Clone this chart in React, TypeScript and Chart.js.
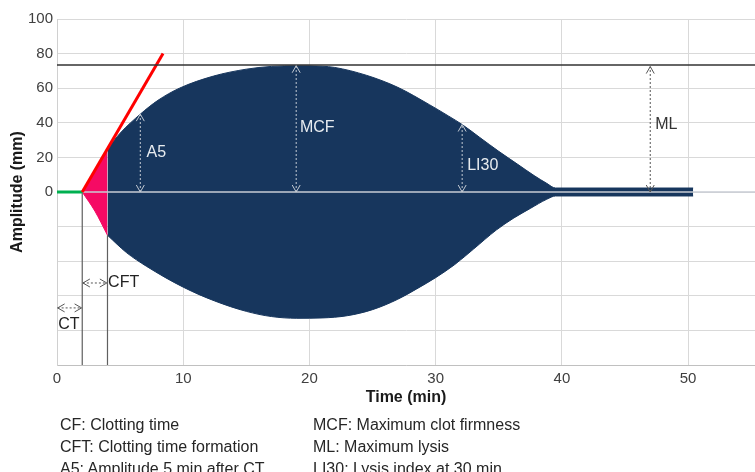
import React, { useEffect, useRef } from "react";
import { Chart, registerables } from "chart.js";

Chart.register(...registerables);

// ---- axes ----
const X_MIN = 0;
const X_MAX = 55.3;
const Y_MIN = -100;
const Y_MAX = 100;
const xTickValues = [0, 10, 20, 30, 40, 50];
const yTickValues = [-100, -80, -60, -40, -20, 0, 20, 40, 60, 80, 100];

// ---- clot trace ----
const clotTimeX = [0, 2]; // CT segment (flat)
const clotTimeY = [0, 0];
const cftUpperX = [2, 4];
const cftUpperY = [0, 25];
const cftLowerX = [2, 3, 4];
const cftLowerY = [0, -11, -25];
const upperX = [4, 5, 6.6, 8, 9.7, 12.4, 15, 17, 19, 21, 22, 24.5, 27, 29.5, 31, 32.1, 33.5, 35, 36.5, 37.8, 38.8, 39.5, 50.4];
const upperY = [25, 34, 45, 53, 60, 67, 71, 72.6, 73, 72.7, 72, 67.5, 60.5, 50.5, 44, 39, 31.5, 23.5, 16, 9.5, 5, 2.3, 2.3];
const lowerX = [4, 5.5, 7.1, 10, 12.5, 15, 17, 19, 21, 23, 25, 27, 28.5, 30, 31.5, 33, 34.8, 36.2, 37.5, 38.8, 39.5, 50.4];
const lowerY = [-25, -35, -43, -55, -63, -69, -72, -73, -72.8, -71.5, -68, -62, -56, -49.5, -42, -33, -22, -15, -9.5, -4.2, -2.3, -2.3];
const tangentX = [2, 8.4];
const tangentY = [0, 80];
const mcfValue = 73.4;
const ctLineX = 2;
const cftLineX = 4;
const cftLineTopY = -25;

// ---- annotations ----
const vArrowLabels = ["A5", "MCF", "LI30", "ML"];
const vArrowX = [6.6, 18.95, 32.1, 47.0];
const vArrowTop = [45, 73, 39, 72.5];
const vArrowBottom = [0, 0, 0, 0];
const vArrowDark = [false, false, false, true];
const vLabelX = [7.1, 19.25, 32.5, 47.4];
const vLabelY = [22.5, 37, 15, 38.7];

const hArrowLabels = ["CT", "CFT"];
const hArrowFrom = [0.05, 2.05];
const hArrowTo = [1.95, 3.95];
const hArrowY = [-67, -52.6];
const hLabelX = [0.1, 4.05];
const hLabelY = [-76.5, -52.6];

const notesLeft = ["CF: Clotting time", "CFT: Clotting time formation", "A5: Amplitude 5 min after CT"];
const notesRight = ["MCF: Maximum clot firmness", "ML: Maximum lysis", "LI30: Lysis index at 30 min."];

const FONT = "'Liberation Sans', Arial, sans-serif";
const NAVY = "#17365d";
const PINK = "#f50a64";

const pts = (xs: number[], ys: number[]) => xs.map((x, i) => ({ x, y: ys[i] }));

const annotationPlugin = {
  id: "rotemAnnotations",
  afterDatasetsDraw(chart: any) {
    const { ctx, scales } = chart;
    const sx = scales.x;
    const sy = scales.y;
    const head = (x: number, y: number, dx: number, dy: number) => {
      const L = 7;
      const W = 4;
      ctx.beginPath();
      ctx.moveTo(x - dx * L + dy * W, y - dy * L + dx * W);
      ctx.lineTo(x, y);
      ctx.lineTo(x - dx * L - dy * W, y - dy * L - dx * W);
      ctx.stroke();
    };
    ctx.save();
    ctx.lineWidth = 1;
    vArrowX.forEach((xv, i) => {
      const x = sx.getPixelForValue(xv);
      const y0 = sy.getPixelForValue(vArrowBottom[i]);
      const y1 = sy.getPixelForValue(vArrowTop[i]);
      const col = vArrowDark[i] ? "#555555" : "#c3cad3";
      ctx.strokeStyle = col;
      ctx.setLineDash([2, 2]);
      ctx.beginPath();
      ctx.moveTo(x, y0);
      ctx.lineTo(x, y1);
      ctx.stroke();
      ctx.setLineDash([]);
      head(x, y1, 0, -1);
      head(x, y0, 0, 1);
      ctx.fillStyle = vArrowDark[i] ? "#333333" : "#e8ecf0";
      ctx.font = `16px ${FONT}`;
      ctx.textAlign = "left";
      ctx.textBaseline = "middle";
      ctx.fillText(vArrowLabels[i], sx.getPixelForValue(vLabelX[i]), sy.getPixelForValue(vLabelY[i]));
    });
    hArrowFrom.forEach((xv, i) => {
      const xa = sx.getPixelForValue(xv);
      const xb = sx.getPixelForValue(hArrowTo[i]);
      const y = sy.getPixelForValue(hArrowY[i]);
      ctx.strokeStyle = "#555555";
      ctx.setLineDash([2, 2]);
      ctx.beginPath();
      ctx.moveTo(xa, y);
      ctx.lineTo(xb, y);
      ctx.stroke();
      ctx.setLineDash([]);
      head(xa, y, -1, 0);
      head(xb, y, 1, 0);
      ctx.fillStyle = "#222222";
      ctx.font = `16px ${FONT}`;
      ctx.textAlign = "left";
      ctx.textBaseline = "middle";
      ctx.fillText(hArrowLabels[i], sx.getPixelForValue(hLabelX[i]), sy.getPixelForValue(hLabelY[i]));
    });
    ctx.restore();
  },
};

export default function App() {
  const ref = useRef<HTMLCanvasElement | null>(null);

  useEffect(() => {
    if (!ref.current) return;
    const lineBase = { pointRadius: 0, pointHoverRadius: 0, fill: false, tension: 0 };
    const chart = new Chart(ref.current, {
      type: "line",
      data: {
        datasets: [
          {
            ...lineBase,
            data: pts(upperX, upperY),
            borderColor: NAVY,
            borderWidth: 1,
            backgroundColor: NAVY,
            fill: "+1",
            cubicInterpolationMode: "monotone",
            tension: 0.4,
            order: 10,
          },
          {
            ...lineBase,
            data: pts(lowerX, lowerY),
            borderColor: NAVY,
            borderWidth: 1,
            cubicInterpolationMode: "monotone",
            tension: 0.4,
            order: 10,
          },
          {
            ...lineBase,
            data: pts(cftUpperX, cftUpperY),
            borderColor: PINK,
            borderWidth: 1,
            backgroundColor: PINK,
            fill: "+1",
            order: 9,
          },
          {
            ...lineBase,
            data: pts(cftLowerX, cftLowerY),
            borderColor: PINK,
            borderWidth: 1,
            cubicInterpolationMode: "monotone",
            tension: 0.4,
            order: 9,
          },
          {
            ...lineBase,
            data: pts([X_MIN, X_MAX], [0, 0]),
            borderColor: "#c8cdd4",
            borderWidth: 1.5,
            order: 8,
          },
          {
            ...lineBase,
            data: pts([ctLineX, ctLineX], [0, Y_MIN]),
            borderColor: "#606060",
            borderWidth: 1.2,
            order: 7,
          },
          {
            ...lineBase,
            data: pts([cftLineX, cftLineX], [cftLineTopY, Y_MIN]),
            borderColor: "#606060",
            borderWidth: 1.2,
            order: 7,
          },
          {
            ...lineBase,
            data: pts(clotTimeX, clotTimeY),
            borderColor: "#00b050",
            borderWidth: 3,
            order: 6,
          },
          {
            ...lineBase,
            data: pts(tangentX, tangentY),
            borderColor: "#ff0000",
            borderWidth: 3,
            order: 5,
          },
          {
            ...lineBase,
            data: pts([X_MIN, X_MAX], [mcfValue, mcfValue]),
            borderColor: "#333333",
            borderWidth: 1.5,
            order: 4,
          },
        ],
      },
      options: {
        animation: false,
        responsive: false,
        maintainAspectRatio: false,
        events: [],
        layout: { padding: { top: 19, right: 0, left: 0, bottom: 0 } },
        plugins: { legend: { display: false }, tooltip: { enabled: false } },
        scales: {
          x: {
            type: "linear",
            min: X_MIN,
            max: X_MAX,
            afterBuildTicks: (s: any) => {
              s.ticks = xTickValues.map((v) => ({ value: v }));
            },
            afterFit: (s: any) => {
              s.height = 107;
            },
            grid: { color: "#d9d9d9", drawTicks: false },
            border: { color: "#c0c0c0" },
            ticks: {
              padding: 5,
              color: "#404040",
              font: { family: FONT, size: 15 },
            },
            title: {
              display: true,
              text: "Time (min)",
              color: "#1a1a1a",
              font: { family: FONT, size: 16, weight: "bold" },
              padding: { top: 0, bottom: 65 },
            },
          },
          y: {
            type: "linear",
            min: Y_MIN,
            max: Y_MAX,
            afterBuildTicks: (s: any) => {
              s.ticks = yTickValues.map((v) => ({ value: v }));
            },
            afterFit: (s: any) => {
              s.width = 57;
            },
            grid: { color: "#d9d9d9", drawTicks: false },
            border: { color: "#d0d0d0" },
            ticks: {
              padding: 4,
              color: "#404040",
              font: { family: FONT, size: 15 },
              callback: (v: any) => (Number(v) >= 0 ? String(v) : ""),
            },
            title: {
              display: true,
              text: "Amplitude (mm)",
              color: "#1a1a1a",
              font: { family: FONT, size: 16, weight: "bold" },
              padding: { top: 8, bottom: 0 },
            },
          },
        },
      },
      plugins: [annotationPlugin],
    } as any);
    return () => chart.destroy();
  }, []);

  const noteStyle: React.CSSProperties = {
    position: "absolute",
    top: 414,
    fontFamily: FONT,
    fontSize: 16,
    lineHeight: "22px",
    color: "#262626",
    whiteSpace: "nowrap",
  };

  return (
    <div style={{ position: "fixed", left: 0, top: 0, width: 755, height: 472, background: "#fff" }}>
      <canvas ref={ref} width={755} height={472} style={{ display: "block", width: 755, height: 472 }} />
      <div style={{ ...noteStyle, left: 60 }}>
        {notesLeft.map((t) => (
          <div key={t}>{t}</div>
        ))}
      </div>
      <div style={{ ...noteStyle, left: 313 }}>
        {notesRight.map((t) => (
          <div key={t}>{t}</div>
        ))}
      </div>
    </div>
  );
}
